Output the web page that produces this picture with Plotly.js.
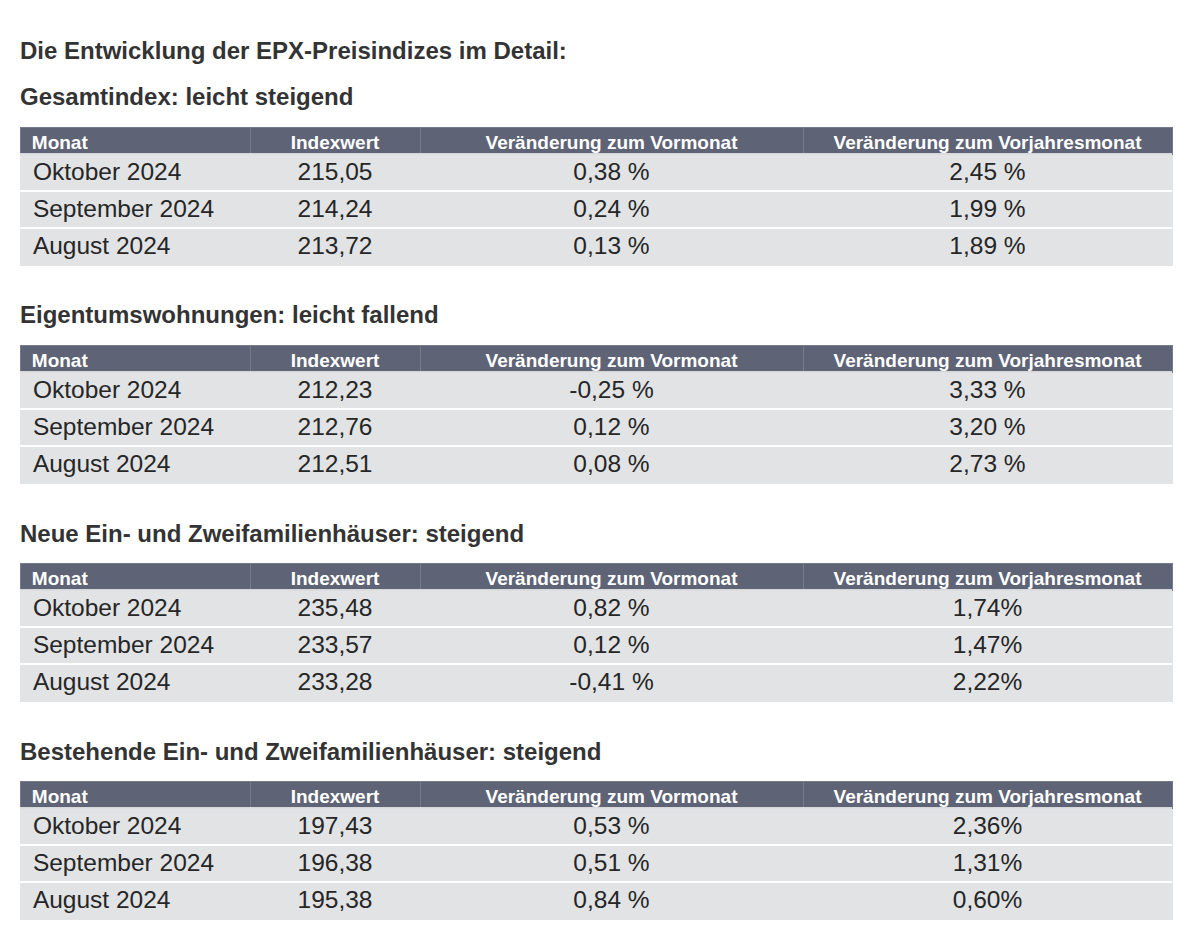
<!DOCTYPE html>
<html>
<head>
<meta charset="utf-8">
<script src="https://cdn.plot.ly/plotly-3.0.1.min.js"></script>
<style>html,body{margin:0;padding:0;background:#fff;}#chart{width:1200px;height:952px;}</style>
</head>
<body>
<div id="chart"></div>
<script>
// ---- data ----
const pageTitle = 'Die Entwicklung der EPX-Preisindizes im Detail:';
const sectionTitles = [
  'Gesamtindex: leicht steigend',
  'Eigentumswohnungen: leicht fallend',
  'Neue Ein- und Zweifamilienhäuser: steigend',
  'Bestehende Ein- und Zweifamilienhäuser: steigend'
];
const headers = ['Monat', 'Indexwert', 'Veränderung zum Vormonat', 'Veränderung zum Vorjahresmonat'];
const months = ['Oktober 2024', 'September 2024', 'August 2024'];

const gesamtIndex = ['215,05', '214,24', '213,72'];
const gesamtVormonat = ['0,38 %', '0,24 %', '0,13 %'];
const gesamtVorjahr = ['2,45 %', '1,99 %', '1,89 %'];

const etwIndex = ['212,23', '212,76', '212,51'];
const etwVormonat = ['-0,25 %', '0,12 %', '0,08 %'];
const etwVorjahr = ['3,33 %', '3,20 %', '2,73 %'];

const neueIndex = ['235,48', '233,57', '233,28'];
const neueVormonat = ['0,82 %', '0,12 %', '-0,41 %'];
const neueVorjahr = ['1,74%', '1,47%', '2,22%'];

const bestIndex = ['197,43', '196,38', '195,38'];
const bestVormonat = ['0,53 %', '0,51 %', '0,84 %'];
const bestVorjahr = ['2,36%', '1,31%', '0,60%'];

const tableData = [
  [gesamtIndex, gesamtVormonat, gesamtVorjahr],
  [etwIndex, etwVormonat, etwVorjahr],
  [neueIndex, neueVormonat, neueVorjahr],
  [bestIndex, bestVormonat, bestVorjahr]
];

// ---- layout constants ----
const W = 1200, H = 952;
const left = 20, right = 1172;
const firstTop = 127, step = 218;
const headerH = 27, rowH = 37;
const nb = s => s.replace(/ /g, '\u00a0');
const FONT = 'Liberation Sans, Arial, sans-serif';
const ROW_FILL = '#e1e3e5';

const traces = tableData.map((cols, i) => {
  const top = firstTop + step * i;
  const bottom = top + headerH + rowH * cols[0].length + 6;
  return {
    type: 'table',
    domain: { x: [left / W, right / W], y: [1 - bottom / H, 1 - top / H] },
    columnwidth: [230, 170, 383, 369],
    header: {
      values: headers.map(h => (h === 'Monat' ? '\u2009' : '') + nb(h)),
      align: ['left', 'center', 'center', 'center'],
      height: headerH,
      fill: { color: '#5e6376' },
      line: { color: '#767b8c', width: 1 },
      font: { family: FONT, size: 19, color: '#ffffff', weight: 'bold' }
    },
    cells: {
      values: [months.map(m => '\u2009' + nb(m)), cols[0].map(nb), cols[1].map(nb), cols[2].map(nb)],
      align: ['left', 'center', 'center', 'center'],
      height: rowH,
      fill: { color: ROW_FILL },
      line: { color: ROW_FILL, width: 1 },
      font: { family: FONT, size: 24.5, color: '#262626' }
    }
  };
});

// white horizontal separators between the body rows (styling only)
const shapes = [];
tableData.forEach((cols, i) => {
  const top = firstTop + step * i;
  for (let k = 0; k < cols[0].length; k++) {
    const y = top + headerH + rowH * k;
    shapes.push({
      type: 'line', xref: 'paper', yref: 'paper', layer: 'above',
      x0: left / W, x1: right / W, y0: 1 - y / H, y1: 1 - y / H,
      line: { color: '#ffffff', width: k === 0 ? 1.5 : 2 }
    });
  }
});

const annotations = [{
  text: pageTitle,
  xref: 'paper', yref: 'paper', x: (left - 2) / W, y: 1 - 50 / H,
  xanchor: 'left', yanchor: 'middle', showarrow: false,
  font: { family: FONT, size: 24, color: '#333333', weight: 'bold' }
}].concat(sectionTitles.map((t, i) => ({
  text: t,
  xref: 'paper', yref: 'paper', x: (left - 2) / W, y: 1 - (97 + step * i) / H,
  xanchor: 'left', yanchor: 'middle', showarrow: false,
  font: { family: FONT, size: 24, color: '#333333', weight: 'bold' }
})));

const layout = {
  width: W, height: H,
  margin: { l: 0, r: 0, t: 0, b: 0 },
  paper_bgcolor: '#ffffff',
  plot_bgcolor: '#ffffff',
  showlegend: false,
  annotations: annotations,
  shapes: shapes
};

Plotly.newPlot('chart', traces, layout, { displayModeBar: false, staticPlot: true });
</script>
</body>
</html>
